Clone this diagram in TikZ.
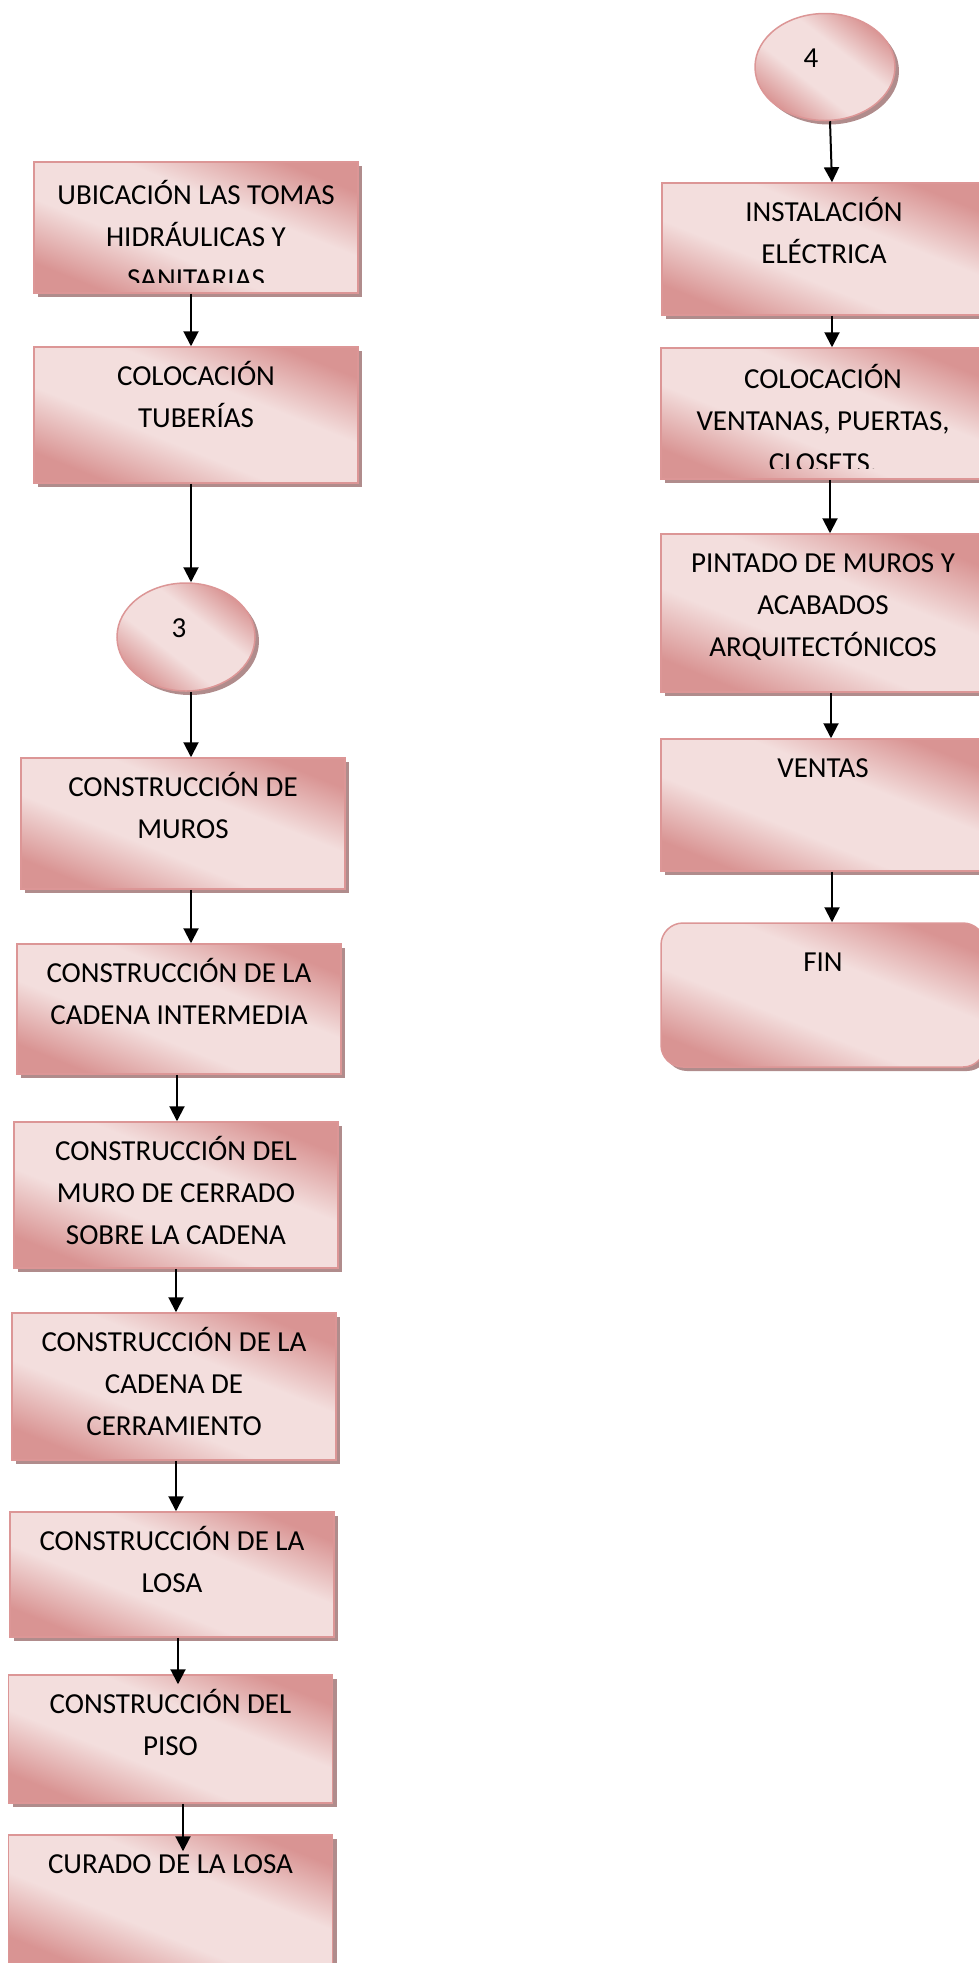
\documentclass[tikz,border=0pt]{standalone}
\usepackage{fontspec}
\setmainfont{Carlito}
\usetikzlibrary{shapes.geometric, arrows.meta, shadows, calc}

\definecolor{roseD}{RGB}{217,148,147}
\definecolor{roseL}{RGB}{243,222,221}
\definecolor{roseEdge}{RGB}{220,150,150}
\definecolor{shadowc}{RGB}{176,140,140}

% diagonal sheen: dark corners, light band in between
\pgfdeclareverticalshading{sheen}{100bp}{color(0bp)=(roseD); color(25bp)=(roseD);
  color(41bp)=(roseL); color(59bp)=(roseL); color(75bp)=(roseD); color(100bp)=(roseD)}

\tikzset{
  x=1pt, y=-1pt,
  rosefill/.style={draw=roseEdge, line width=1.5pt,
    shading=sheen, shading angle=-22,
    drop shadow={shadow xshift=4pt, shadow yshift=-4pt, fill=shadowc, opacity=1}},
  stepbox/.style={rectangle, rosefill, minimum width=324pt, inner sep=0pt},
  endbox/.style={stepbox, rounded corners=22pt},
  connector/.style={ellipse, rosefill, shading angle=-38, inner sep=0pt},
  steptext/.style={inner sep=0pt, anchor=base, align=center,
    font=\fontsize{29}{42}\selectfont},
  flow/.style={line width=2pt, -{Triangle[width=15pt,length=15pt]}},
}

% text of a box: #2 box, #3 name, #4 number of lines, #5 text;
% the first baseline sits #1 below the top edge, the text is cut just above the bottom edge
\newcommand\boxlabel[5][39]{%
  \pgfmathsetmacro\lastbase{#1+(#4-1)*42}%
  \begin{scope}
    \clip ([yshift=11pt]#2.south west) rectangle (#2.north east);
    \node[steptext] (#3) at ([yshift=-\lastbase pt]#2.north) {#5};
  \end{scope}}

\begin{document}
\begin{tikzpicture}
\useasboundingbox (0,0) rectangle (979,1963);
\clip (0,0) rectangle (979,1963);

% left column
\node[stepbox, minimum height=131pt] (b1) at (196,227.5) {};
\node[stepbox, minimum height=136pt] (b2) at (196,415) {};
\node[connector, minimum width=138pt, minimum height=108pt] (c3) at (186,637) {};
\node[stepbox, minimum height=131pt] (b4) at (183,823.5) {};
\node[stepbox, minimum height=130pt] (b5) at (179,1009) {};
\node[stepbox, minimum height=146pt] (b6) at (176,1195) {};
\node[stepbox, minimum height=147pt] (b7) at (174,1386.5) {};
\node[stepbox, minimum height=125pt] (b8) at (172,1574.5) {};
\node[stepbox, minimum height=128pt] (b9) at (170.5,1739) {};
\node[stepbox, minimum height=132pt] (b10) at (170.5,1901) {};

% right column
\node[connector, minimum width=140pt, minimum height=107pt] (c4) at (825,67) {};
\node[stepbox, minimum height=132pt] (r1) at (824,249) {};
\node[stepbox, minimum height=131pt] (r2) at (823,413.5) {};
\node[stepbox, minimum height=158pt] (r3) at (823,613) {};
\node[stepbox, minimum height=132pt] (r4) at (823,805) {};
\node[endbox, minimum height=144pt] (r5) at (823,995) {};

% texts
\boxlabel[43]{b1}{t1}{3}{UBICACIÓN LAS TOMAS\\HIDRÁULICAS Y\\SANITARIAS}
\boxlabel{b2}{t2}{2}{COLOCACIÓN\\TUBERÍAS}
\node[steptext] (t3) at ([xshift=-7pt]c3.center) {3};
\boxlabel{b4}{t4}{2}{CONSTRUCCIÓN DE\\MUROS}
\boxlabel{b5}{t5}{2}{CONSTRUCCIÓN DE LA\\CADENA INTERMEDIA}
\boxlabel{b6}{t6}{3}{CONSTRUCCIÓN DEL\\MURO DE CERRADO\\SOBRE LA CADENA}
\boxlabel{b7}{t7}{3}{CONSTRUCCIÓN DE LA\\CADENA DE\\CERRAMIENTO}
\boxlabel{b8}{t8}{2}{CONSTRUCCIÓN DE LA\\LOSA}
\boxlabel{b9}{t9}{2}{CONSTRUCCIÓN DEL\\PISO}
\boxlabel{b10}{t10}{1}{CURADO DE LA LOSA}
\node[steptext] (t11) at ([xshift=-14pt]c4.center) {4};
\boxlabel{r1}{t12}{2}{INSTALACIÓN\\ELÉCTRICA}
\boxlabel[41]{r2}{t13}{3}{COLOCACIÓN\\VENTANAS, PUERTAS,\\CLOSETS.}
\boxlabel{r3}{t14}{3}{PINTADO DE MUROS Y\\ACABADOS\\ARQUITECTÓNICOS}
\boxlabel{r4}{t15}{1}{VENTAS}
\boxlabel[49]{r5}{t16}{1}{FIN}

% connectors, left column
\draw[flow] ([xshift=-5pt]b1.south) -- ([xshift=-5pt]b2.north);
\draw[flow] ([xshift=-5pt]b2.south) -- ([xshift=5pt]c3.north);
\draw[flow] ([xshift=5pt]c3.south) -- ([xshift=8pt]b4.north);
\draw[flow] ([xshift=8pt]b4.south) -- ([xshift=12pt]b5.north);
\draw[flow] ([xshift=-2pt]b5.south) -- ([xshift=1pt]b6.north);
\draw[flow] ([xshift=0pt]b6.south) -- ([xshift=2pt]b7.north);
\draw[flow] ([xshift=2pt]b7.south) -- ([xshift=4pt]b8.north);
\draw[flow] ([xshift=6pt]b8.south) -- ([xshift=7.5pt,yshift=-10pt]b9.north);
\draw[flow] ([xshift=12.5pt]b9.south) -- ([xshift=12.5pt,yshift=-17pt]b10.north);

% connectors, right column
\draw[flow] ([xshift=5pt]c4.south) -- ([xshift=8pt]r1.north);
\draw[flow] ([xshift=8pt]r1.south) -- ([xshift=9pt]r2.north);
\draw[flow] ([xshift=7pt]r2.south) -- ([xshift=7pt]r3.north);
\draw[flow] ([xshift=8pt]r3.south) -- ([xshift=8pt]r4.north);
\draw[flow] ([xshift=9pt]r4.south) -- ([xshift=9pt]r5.north);
\end{tikzpicture}
\end{document}
